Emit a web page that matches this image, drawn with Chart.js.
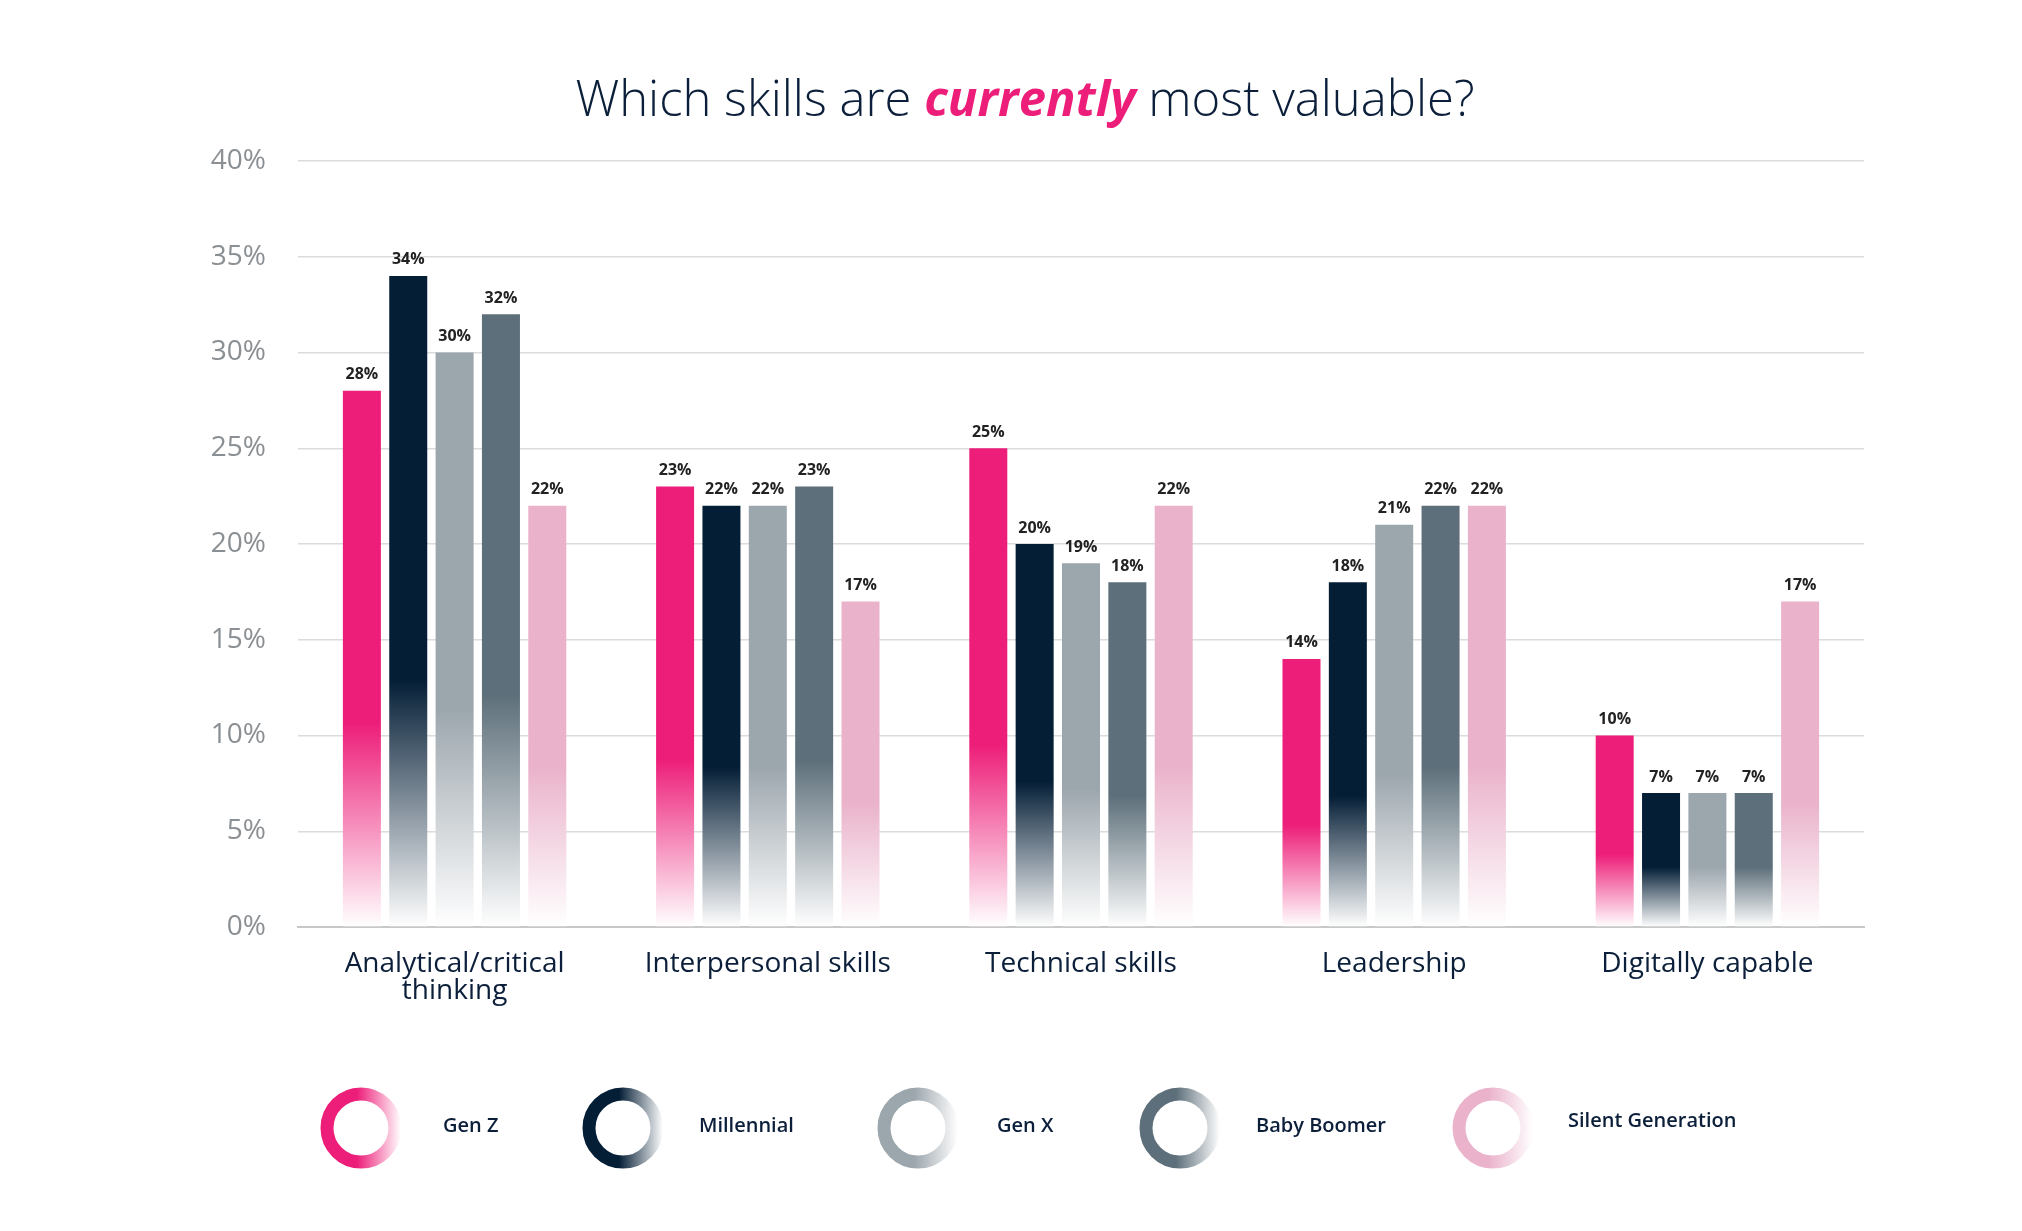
<!DOCTYPE html>
<html><head><meta charset="utf-8">
<script src="https://cdn.jsdelivr.net/npm/chart.js@4"></script>
<style>
html,body{margin:0;padding:0;background:#fff;}
#wrap{position:relative;width:2022px;height:1231px;}
#title{position:absolute;left:14px;width:2022px;top:64px;text-align:center;font-family:"Open Sans";font-weight:300;font-size:49px;color:#0b1f3a;}
#title b{color:#ed1e79;font-style:italic;font-weight:700;}
</style></head><body>
<div id="wrap"><canvas id="c" width="2022" height="1231"></canvas>
<div id="title">Which skills are <b>currently</b> most valuable?</div></div>
<script>
const categories = [["Analytical/critical","thinking"],"Interpersonal skills","Technical skills","Leadership","Digitally capable"];
const seriesNames = ["Gen Z","Millennial","Gen X","Baby Boomer","Silent Generation"];
const genZ = [28,23,25,14,10];
const millennial = [34,22,20,18,7];
const genX = [30,22,19,21,7];
const babyBoomer = [32,23,18,22,7];
const silent = [22,17,22,22,17];
const yTicks = [0,5,10,15,20,25,30,35,40];
const colors = ["#ed1e79","#041e36","#9ca6ad","#5d6f7a","#eab3cb"];
const values = [genZ,millennial,genX,babyBoomer,silent];

function grad(color){
  return (ctx)=>{
    const ch=ctx.chart, a=ch.chartArea;
    if(!a || ctx.type!=='data') return color;
    const y=ch.scales.y, top=y.getPixelForValue(ctx.raw), base=a.bottom;
    const h=base-top;
    const g=ch.ctx.createLinearGradient(0,base,0,base-Math.max(h*0.38,60));
    g.addColorStop(0,"rgba(255,255,255,1)");
    g.addColorStop(1,color);
    return g;
  };
}
const labelPlugin={id:'lbl',afterDatasetsDraw(ch){
  const c=ch.ctx;c.save();c.font="bold 16px 'Open Sans'";c.fillStyle="#222";c.textAlign="center";c.textBaseline="bottom";
  ch.data.datasets.forEach((ds,i)=>{ch.getDatasetMeta(i).data.forEach((b,j)=>{c.fillText(ds.data[j]+"%",b.x,b.y-8);});});
  c.restore();
}};
const legendPlugin={id:'leg',afterDraw(ch){
  const c=ch.ctx;const cx=[361,623,918,1180,1493];const tx=[443,699,997,1256,1568];const ty=[1126,1126,1126,1126,1121];
  seriesNames.forEach((n,i)=>{
    const x=cx[i],y=1128,r=34;
    const g=c.createLinearGradient(x-40,0,x+40,0);
    g.addColorStop(0,colors[i]);g.addColorStop(0.45,colors[i]);g.addColorStop(1,"#ffffff");
    c.save();c.beginPath();c.arc(x,y,r,0,Math.PI*2);c.lineWidth=13;c.strokeStyle=g;c.stroke();c.restore();
    c.save();c.font="600 20px 'Open Sans'";c.fillStyle="#0b1f3a";c.textBaseline="middle";c.fillText(n,tx[i],ty[i]);c.restore();
  });
}};
new Chart(document.getElementById('c'),{
  type:'bar',
  data:{labels:categories,datasets:values.map((v,i)=>({label:seriesNames[i],data:v,backgroundColor:grad(colors[i]),borderWidth:0}))},
  options:{responsive:false,animation:false,
    layout:{padding:{top:161,right:158,left:0,bottom:0}},
    plugins:{legend:{display:false},tooltip:{enabled:false}},
    datasets:{bar:{categoryPercentage:0.74,barPercentage:0.82}},
    scales:{
      y:{min:0,max:40,afterFit:s=>{s.width=298;},afterBuildTicks:s=>{s.ticks=yTicks.map(v=>({value:v}));},
         border:{display:false},grid:{color:"#dcdcdc",lineWidth:1.5,drawTicks:false},
         ticks:{padding:32,color:"#8a8f94",font:{family:"Open Sans",size:28},callback:v=>v+"%"}},
      x:{afterFit:s=>{s.height=304;},border:{color:"#c8c8c8",width:2},grid:{display:false,drawTicks:false},
         ticks:{padding:24,color:"#0b1f3a",font:{family:"Open Sans",size:28,lineHeight:0.95}}}
    }},
  plugins:[labelPlugin,legendPlugin]
});
</script></body></html>
